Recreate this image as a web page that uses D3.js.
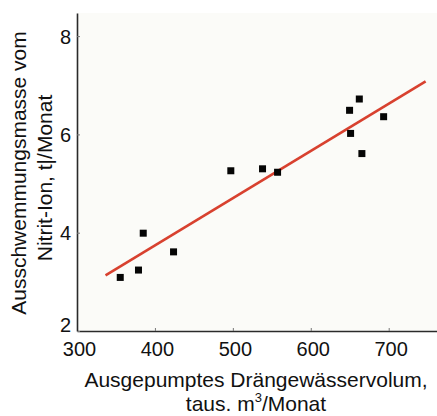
<!DOCTYPE html>
<html>
<head>
<meta charset="utf-8">
<script src="https://cdn.jsdelivr.net/npm/d3@7"></script>
<style>
  body { margin: 0; background: #fff; }
  svg { display: block; font-family: "Liberation Sans", Arial, sans-serif; }
</style>
</head>
<body>
<div id="chart"></div>
<script>
// Pumped drainage water volume (thousand m3/month) vs nitrite-ion washout (t/month)
const volumes = [355.5, 378.9, 385, 423.9, 497.4, 538.1, 557.4, 649.8, 662.3, 651.1, 665.6, 693.5];
const nitrite = [3.09, 3.24, 3.99, 3.61, 5.26, 5.30, 5.23, 6.49, 6.72, 6.02, 5.61, 6.36];
const fitX = [336.6, 747.4];
const fitY = [3.13, 7.08];
const xTicks = [300, 400, 500, 600, 700];
const yTicks = [2, 4, 6, 8];

const width = 437, height = 416;
const margin = {top: 13, right: 0, bottom: 85, left: 77};

const svg = d3.select("#chart")
    .append("svg")
    .attr("width", width)
    .attr("height", height);

const x = d3.scaleLinear()
    .domain([300, 762])
    .range([margin.left, width - margin.right]);

const y = d3.scaleLinear()
    .domain([2, 8.47])
    .range([height - margin.bottom, margin.top]);

// plot background
svg.append("rect")
    .attr("x", margin.left)
    .attr("y", margin.top)
    .attr("width", width - margin.right - margin.left)
    .attr("height", height - margin.bottom - margin.top)
    .attr("fill", "#fbfbf8");

// axes
const xAxis = svg.append("g")
    .attr("transform", `translate(0,${height - margin.bottom})`)
    .call(d3.axisBottom(x).tickValues(xTicks).tickFormat(d3.format("d"))
        .tickSizeInner(-3).tickSizeOuter(0).tickPadding(10));

const yAxis = svg.append("g")
    .attr("transform", `translate(${margin.left},0)`)
    .call(d3.axisLeft(y).tickValues(yTicks).tickFormat(d3.format("d"))
        .tickSizeInner(-3).tickSizeOuter(0).tickPadding(6));

[xAxis, yAxis].forEach(a => {
    a.select(".domain").attr("stroke", "#2a2a2a").attr("stroke-width", 1.6);
    a.selectAll(".tick line").attr("stroke", "#777").attr("stroke-width", 1);
    a.selectAll(".tick text")
        .attr("fill", "#111")
        .attr("font-size", 20)
        .attr("font-family", "Liberation Sans, Arial, sans-serif");
});
xAxis.selectAll(".tick text").attr("dy", "0.75em").attr("dx", 2);
yAxis.selectAll(".tick text").attr("dy", "0.36em");
// the bottom "2" sits above the axis so it clears "300"
yAxis.selectAll(".tick text").filter(d => d === 2).attr("dy", "0.02em");

// regression line
const fit = fitX.map((v, i) => [v, fitY[i]]);
svg.append("path")
    .datum(fit)
    .attr("d", d3.line().x(d => x(d[0])).y(d => y(d[1])))
    .attr("stroke", "#d8412f")
    .attr("stroke-width", 2.6)
    .attr("fill", "none");

// measured points
const pts = volumes.map((v, i) => ({v: v, n: nitrite[i]}));
const s = 7;
svg.selectAll(".pt")
    .data(pts)
    .enter()
    .append("rect")
    .attr("class", "pt")
    .attr("x", d => x(d.v) - s / 2)
    .attr("y", d => y(d.n) - s / 2)
    .attr("width", s)
    .attr("height", s)
    .attr("fill", "#050505");

// x title, two separate lines
svg.append("text")
    .attr("x", 256)
    .attr("y", 387)
    .attr("text-anchor", "middle")
    .attr("font-size", 21)
    .attr("fill", "#111")
    .text("Ausgepumptes Drängewässervolum,");
const xt2 = svg.append("text")
    .attr("x", 256)
    .attr("y", 410.5)
    .attr("text-anchor", "middle")
    .attr("font-size", 21)
    .attr("fill", "#111");
xt2.append("tspan").text("taus. m");
xt2.append("tspan").attr("font-size", 13).attr("dy", -9).text("3");
xt2.append("tspan").attr("dy", 9).text("/Monat");

// y title (two lines, rotated)
svg.append("text")
    .attr("transform", "translate(26,173) rotate(-90)")
    .attr("text-anchor", "middle")
    .attr("font-size", 21)
    .attr("fill", "#111")
    .text("Ausschwemmungsmasse vom");
svg.append("text")
    .attr("transform", "translate(52,178) rotate(-90)")
    .attr("text-anchor", "middle")
    .attr("font-size", 21)
    .attr("fill", "#111")
    .text("Nitrit-Ion, t|/Monat");
</script>
</body>
</html>
